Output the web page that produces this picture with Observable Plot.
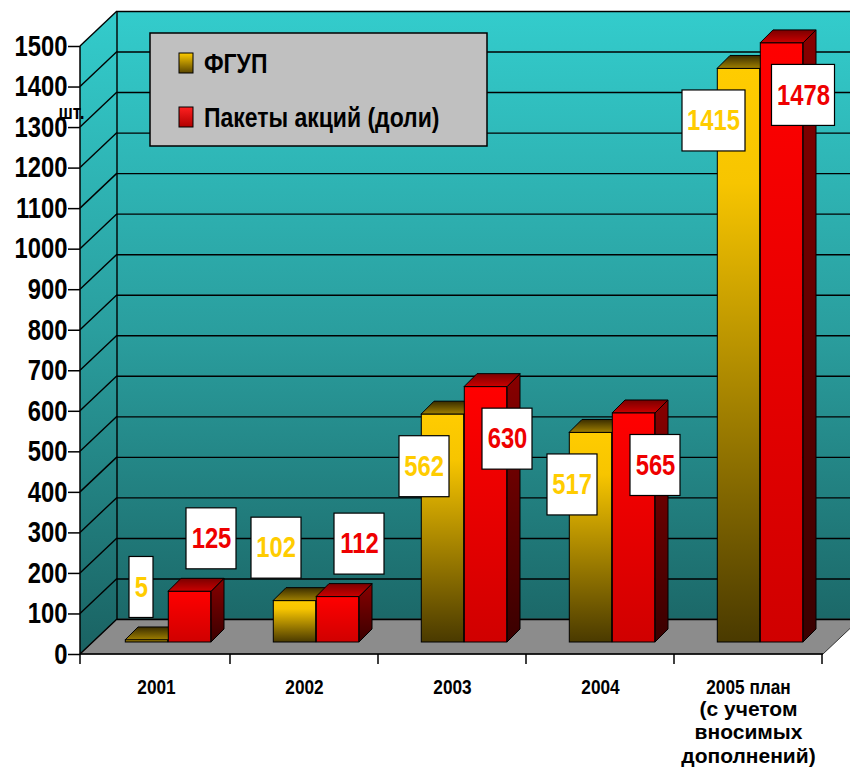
<!DOCTYPE html>
<html>
<head>
<meta charset="utf-8">
<script src="https://cdn.jsdelivr.net/npm/d3@7"></script>
<script src="https://cdn.jsdelivr.net/npm/@observablehq/plot@0.6"></script>
<style>
  html, body { margin: 0; padding: 0; background: #fff; }
  #chart svg { display: block; }
</style>
</head>
<body>
<div id="chart"></div>
<script>
// ---------- data ----------
const categories = ["2001", "2002", "2003", "2004", "2005 план"];
const categoryNotes = ["", "", "", "", "(с учетом\nвносимых\nдополнений)"];
const seriesNames = ["ФГУП", "Пакеты акций (доли)"];
const fgupValues = [5, 102, 562, 517, 1415];
const shareValues = [125, 112, 630, 565, 1478];
const yTicks = [0, 100, 200, 300, 400, 500, 600, 700, 800, 900, 1000, 1100, 1200, 1300, 1400, 1500];
const unitLabel = "шт.";

// ---------- layout / style ----------
const W = 850, H = 768;
const M = {top: 46, right: 27, bottom: 114, left: 80};
const WALL = [37, -35];   // depth of the chart box (px)
const FRONT = [12, -12];  // bar front-face offset from the front plane (px)
const DEPTH = [13, -13];  // bar depth (px)
const BAR_W = 43;
const NARROW = "Liberation Sans, Arial, sans-serif";   // compressed afterwards (Arial Narrow look)
const WIDE = "Arial, Liberation Sans, sans-serif";
const NARROW_RATIO = 0.82;
const YELLOW_TEXT = "#ffcc00", RED_TEXT = "#ee0000";

const bars = categories.flatMap((c, i) => [
  {category: c, series: seriesNames[0], value: fgupValues[i]},
  {category: c, series: seriesNames[1], value: shareValues[i]}
]);
const yellowBars = bars.filter(d => d.series === seriesNames[0]);
const redBars = bars.filter(d => d.series === seriesNames[1]);
const notes = categories.map((c, i) => ({category: c, note: categoryNotes[i]})).filter(d => d.note);
const bandW = (W - M.left - M.right) / categories.length;
const yMin = yTicks[0], yMax = yTicks[yTicks.length - 1];

// ---------- custom 3D pieces (drawn with Plot's scales) ----------
const walls = (index, {y}, values, dim) => {
  const g = d3.create("svg:g");
  const xl = dim.marginLeft, xr = dim.width - dim.marginRight;
  const y0 = y(yMin), y1 = y(yMax);
  const [wx, wy] = WALL;
  g.append("rect").attr("x", xl + wx).attr("y", y1 + wy)
    .attr("width", xr - xl).attr("height", y0 - y1).attr("fill", "url(#gWall)");
  g.append("path").attr("d", `M${xl},${y0}L${xl},${y1}L${xl + wx},${y1 + wy}L${xl + wx},${y0 + wy}Z`)
    .attr("fill", "url(#gWall)");
  g.append("path").attr("d", `M${xl},${y0}L${xr},${y0}L${xr + wx},${y0 + wy}L${xl + wx},${y0 + wy}Z`)
    .attr("fill", "#8c8c8c").attr("stroke", "#333").attr("stroke-width", 1);
  for (const t of yTicks) {
    g.append("line").attr("x1", xl).attr("y1", y(t)).attr("x2", xl + wx).attr("y2", y(t) + wy)
      .attr("stroke", "#000").attr("stroke-width", 1.4);
  }
  g.append("line").attr("x1", xl + wx).attr("y1", y0 + wy).attr("x2", xl + wx).attr("y2", y1 + wy)
    .attr("stroke", "#000").attr("stroke-width", 1.4);
  return g.node();
};

const frontEdges = (index, {x, y}, values, dim) => {
  const g = d3.create("svg:g");
  const xl = dim.marginLeft, xr = dim.width - dim.marginRight;
  const y0 = y(yMin), y1 = y(yMax);
  g.append("line").attr("x1", xl).attr("x2", xl).attr("y1", y1).attr("y2", y0 + 10)
    .attr("stroke", "#000").attr("stroke-width", 1.5);
  g.append("line").attr("x1", xl).attr("x2", xr).attr("y1", y0).attr("y2", y0)
    .attr("stroke", "#000").attr("stroke-width", 1.5);
  for (const c of categories) {
    const bx = x(c) + x.bandwidth();
    g.append("line").attr("x1", bx).attr("x2", bx).attr("y1", y0).attr("y2", y0 + 10)
      .attr("stroke", "#000").attr("stroke-width", 1.5);
  }
  return g.node();
};

const barFaces = (rows, leftOfCenter, topFill, sideFill) => (index, {x, y}) => {
  const g = d3.create("svg:g");
  const [dx, dy] = DEPTH;
  for (const d of rows) {
    const xa = x(d.category) + x.bandwidth() / 2 + (leftOfCenter ? -BAR_W : 0) + FRONT[0];
    const xb = xa + BAR_W;
    const yt = y(d.value) + FRONT[1], yb = y(0) + FRONT[1];
    g.append("path").attr("d", `M${xb},${yb}L${xb},${yt}L${xb + dx},${yt + dy}L${xb + dx},${yb + dy}Z`)
      .attr("fill", sideFill).attr("stroke", "#000").attr("stroke-width", 1);
    g.append("path").attr("d", `M${xa},${yt}L${xb},${yt}L${xb + dx},${yt + dy}L${xa + dx},${yt + dy}Z`)
      .attr("fill", topFill).attr("stroke", "#000").attr("stroke-width", 1);
  }
  return g.node();
};

// value label placement: small bars get the label above, tall bars over their upper part
const LABEL_ABOVE = FRONT[1] - 53, LABEL_OVER = FRONT[1] + 52;
const isSmall = d => d.value < 300;
const labelW = d => String(d.value).length * 13 + 11;
const YELLOW_DX = -BAR_W + FRONT[0] + 22.5;  // text end (right) position
const RED_DX = BAR_W + FRONT[0];              // text center position

const labelBoxes = (index, {x, y}) => {
  const g = d3.create("svg:g");
  const put = (d, dxText, anchor) => {
    const cx = x(d.category) + x.bandwidth() / 2 + dxText;
    const cy = y(d.value) + (isSmall(d) ? LABEL_ABOVE : LABEL_OVER);
    const w = labelW(d);
    const left = anchor === "end" ? cx + 5.5 - w : cx - w / 2;
    g.append("rect").attr("x", left).attr("y", cy - 30.5).attr("width", w).attr("height", 61)
      .attr("fill", "#fff").attr("stroke", "#000").attr("stroke-width", 1.2);
  };
  yellowBars.forEach(d => put(d, YELLOW_DX, "end"));
  redBars.forEach(d => put(d, RED_DX, "middle"));
  return g.node();
};

const valueText = (rows, dxText, anchor, color) => [
  Plot.text(rows, {filter: isSmall, x: "category", y: "value", text: d => String(d.value),
    dx: dxText, dy: LABEL_ABOVE, textAnchor: anchor, fill: color,
    fontSize: 29, fontWeight: "bold", fontFamily: NARROW}),
  Plot.text(rows, {filter: d => !isSmall(d), x: "category", y: "value", text: d => String(d.value),
    dx: dxText, dy: LABEL_OVER, textAnchor: anchor, fill: color,
    fontSize: 29, fontWeight: "bold", fontFamily: NARROW})
];

const legend = (index, scales, values, dim) => {
  const g = d3.create("svg:g").attr("font-family", NARROW).attr("font-weight", "bold")
    .attr("font-size", 28).attr("text-anchor", "start");
  const lx = dim.marginLeft + 70, ly = dim.marginTop - 13;
  g.append("rect").attr("x", lx).attr("y", ly).attr("width", 337).attr("height", 113)
    .attr("fill", "#c0c0c0").attr("stroke", "#000").attr("stroke-width", 1.5);
  const fills = ["url(#gYellowSw)", "url(#gRedSw)"];
  seriesNames.forEach((name, i) => {
    const cy = ly + 30 + i * 54;
    g.append("rect").attr("x", lx + 29).attr("y", cy - 10).attr("width", 14).attr("height", 20)
      .attr("fill", fills[i]).attr("stroke", "#000").attr("stroke-width", 1);
    g.append("text").attr("x", lx + 54).attr("y", cy).attr("dy", "0.36em")
      .attr("fill", "#000").text(name);
  });
  return g.node();
};

// ---------- plot ----------
const chart = Plot.plot({
  width: W, height: H,
  marginTop: M.top, marginRight: M.right, marginBottom: M.bottom, marginLeft: M.left,
  style: {background: "#fff"},
  x: {type: "band", domain: categories, padding: 0},
  y: {domain: [yMin, yMax], nice: false},
  marks: [
    walls,
    Plot.ruleY(yTicks, {dx: WALL[0], dy: WALL[1], stroke: "#000", strokeWidth: 1.4}),
    frontEdges,
    barFaces(yellowBars, true, "url(#gYellowTop)", "url(#gYellowSide)"),
    Plot.barY(yellowBars, {x: "category", y: "value",
      insetLeft: bandW / 2 - BAR_W, insetRight: bandW / 2,
      dx: FRONT[0], dy: FRONT[1], fill: "url(#gYellow)", stroke: "#000", strokeWidth: 1}),
    barFaces(redBars, false, "url(#gRedTop)", "url(#gRedSide)"),
    Plot.barY(redBars, {x: "category", y: "value",
      insetLeft: bandW / 2, insetRight: bandW / 2 - BAR_W,
      dx: FRONT[0], dy: FRONT[1], fill: "url(#gRed)", stroke: "#000", strokeWidth: 1}),
    labelBoxes,
    ...valueText(yellowBars, YELLOW_DX, "end", YELLOW_TEXT),
    ...valueText(redBars, RED_DX, "middle", RED_TEXT),
    legend,
    Plot.axisY({ticks: yTicks, tickFormat: d => String(d), tickSize: 12, tickPadding: 1, label: null,
      fontSize: 29, fontWeight: "bold", fontFamily: NARROW, stroke: "#000", strokeWidth: 1.5, fill: "#000"}),
    Plot.text([unitLabel], {frameAnchor: "top-left", text: d => d, dx: -22, dy: 58,
      textAnchor: "start", fontSize: 21, fontWeight: "bold", fontFamily: NARROW, fill: "#000"}),
    Plot.axisX({tickSize: 0, tickPadding: 25, label: null,
      fontSize: 21, fontWeight: "bold", fontFamily: NARROW, fill: "#000"}),
    Plot.text(notes, {x: "category", text: "note", frameAnchor: "bottom", dy: 44,
      lineAnchor: "top", lineHeight: 1.14, fontSize: 21, fontWeight: "bold", fontFamily: WIDE, fill: "#000"})
  ]
});

// gradient definitions
const defs = d3.select(chart).insert("defs", ":first-child");
function grad(id, stops, attrs = {}) {
  const lg = defs.append("linearGradient").attr("id", id)
    .attr("x1", 0).attr("y1", 0).attr("x2", 0).attr("y2", 1);
  for (const [k, v] of Object.entries(attrs)) lg.attr(k, v);
  stops.forEach(([o, c]) => lg.append("stop").attr("offset", o).attr("stop-color", c));
}
grad("gWall", [[0, "#33cccc"], [0.5, "#2a9e9e"], [1, "#1a6262"]],
  {gradientUnits: "userSpaceOnUse", x1: 0, x2: 0, y1: M.top + WALL[1], y2: H - M.bottom});
grad("gYellow", [[0, "#ffcc00"], [0.2, "#f7c500"], [1, "#4a3a00"]]);
grad("gYellowSw", [[0, "#ffcc00"], [1, "#5a4600"]]);
grad("gYellowTop", [[0, "#3a2d00"], [1, "#a08000"]]);
grad("gYellowSide", [[0, "#6b5500"], [1, "#2a2100"]]);
grad("gRed", [[0, "#ff0000"], [1, "#d00000"]]);
grad("gRedSw", [[0, "#ff2020"], [1, "#b00000"]]);
grad("gRedTop", [[0, "#7a0000"], [1, "#cc0000"]]);
grad("gRedSide", [[0, "#880000"], [1, "#3a0000"]]);

document.getElementById("chart").appendChild(chart);

// Arial-Narrow look: compress the bold sans texts horizontally (still real text)
chart.querySelectorAll("text").forEach(t => {
  const owner = t.closest("[font-family]");
  if (!owner || owner.getAttribute("font-family") !== NARROW) return;
  const len = t.getComputedTextLength();
  if (len > 0) {
    t.setAttribute("textLength", (len * NARROW_RATIO).toFixed(2));
    t.setAttribute("lengthAdjust", "spacingAndGlyphs");
  }
});
</script>
</body>
</html>
